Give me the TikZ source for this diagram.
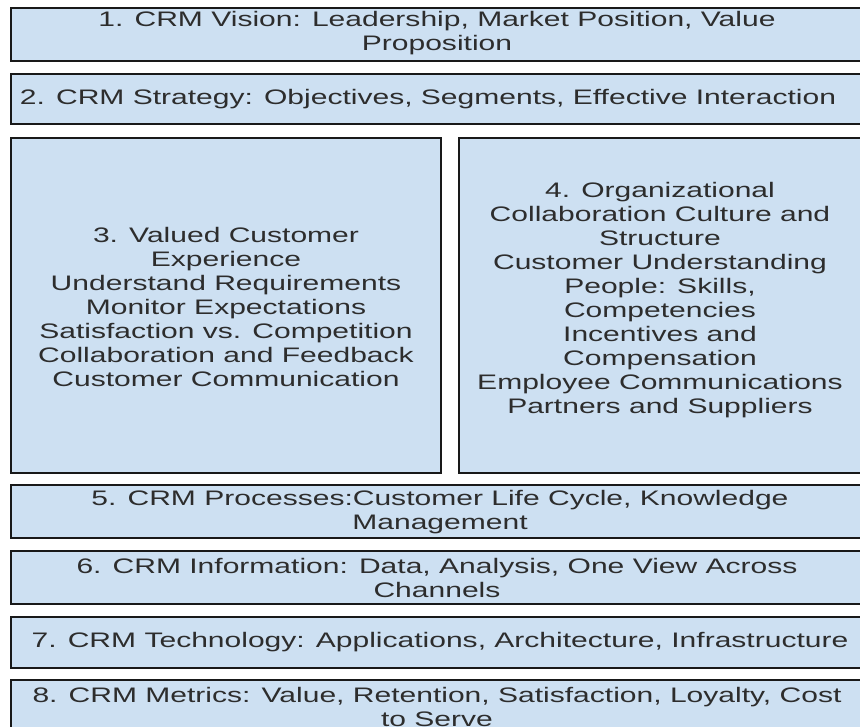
\documentclass[tikz,border=0pt]{standalone}
\usepackage{fontspec}
\usetikzlibrary{shadows}
\setmainfont[FakeStretch=1.43]{Liberation Sans}
\definecolor{boxfill}{RGB}{205,224,242}
\definecolor{boxline}{RGB}{25,25,25}
\definecolor{txt}{RGB}{45,45,45}
\begin{document}
\begin{tikzpicture}[x=1pt,y=-1pt,
  crmbox/.style={draw=boxline, fill=boxfill, line width=1.8pt, inner sep=0pt, outer sep=0pt, rectangle,
    drop shadow={shadow xshift=-1.2pt, shadow yshift=-1.2pt, fill=black, opacity=0.7}},
  crmtext/.style={text=txt, align=center, inner sep=0pt, font=\fontsize{21}{24}\selectfont}]
\useasboundingbox (0,0) rectangle (860,727);
\clip (0,0) rectangle (860,727);
\fill[white] (0,0) rectangle (860,727);
% boxes
\node[crmbox, minimum width=852pt, minimum height=53pt] (b1) at (437,34.5) {};
\node[crmbox, minimum width=852pt, minimum height=50pt] (b2) at (437,99) {};
\node[crmbox, minimum width=430pt, minimum height=335pt] (b3) at (226,305.5) {};
\node[crmbox, minimum width=404pt, minimum height=335pt] (b4) at (661,305.5) {};
\node[crmbox, minimum width=852pt, minimum height=53pt] (b5) at (437,511.5) {};
\node[crmbox, minimum width=852pt, minimum height=53pt] (b6) at (437,577.5) {};
\node[crmbox, minimum width=852pt, minimum height=51pt] (b7) at (437,642.5) {};
\node[crmbox, minimum width=852pt, minimum height=60pt] (b8) at (437,710) {};
% texts
\node[crmtext] (t1) at (437,33) {1. CRM Vision: Leadership, Market Position, Value\\Proposition};
\node[crmtext] (t2) at (428,99) {2. CRM Strategy: Objectives, Segments, Effective Interaction};
\node[crmtext] (t3) at (226,307) {3. Valued Customer\\Experience\\Understand Requirements\\Monitor Expectations\\Satisfaction vs. Competition\\Collaboration and Feedback\\Customer Communication};
\node[crmtext] (t4) at (660,300) {4. Organizational\\Collaboration Culture and\\Structure\\Customer Understanding\\People: Skills,\\Competencies\\Incentives and\\Compensation\\Employee Communications\\Partners and Suppliers};
\node[crmtext] (t5) at (440,512) {5. CRM Processes:Customer Life Cycle, Knowledge\\Management};
\node[crmtext] (t6) at (437,578) {6. CRM Information: Data, Analysis, One View Across\\Channels};
\node[crmtext] (t7) at (440,642.5) {7. CRM Technology: Applications, Architecture, Infrastructure};
\node[crmtext] (t8) at (437,707) {8. CRM Metrics: Value, Retention, Satisfaction, Loyalty, Cost\\to Serve};
\end{tikzpicture}
\end{document}
